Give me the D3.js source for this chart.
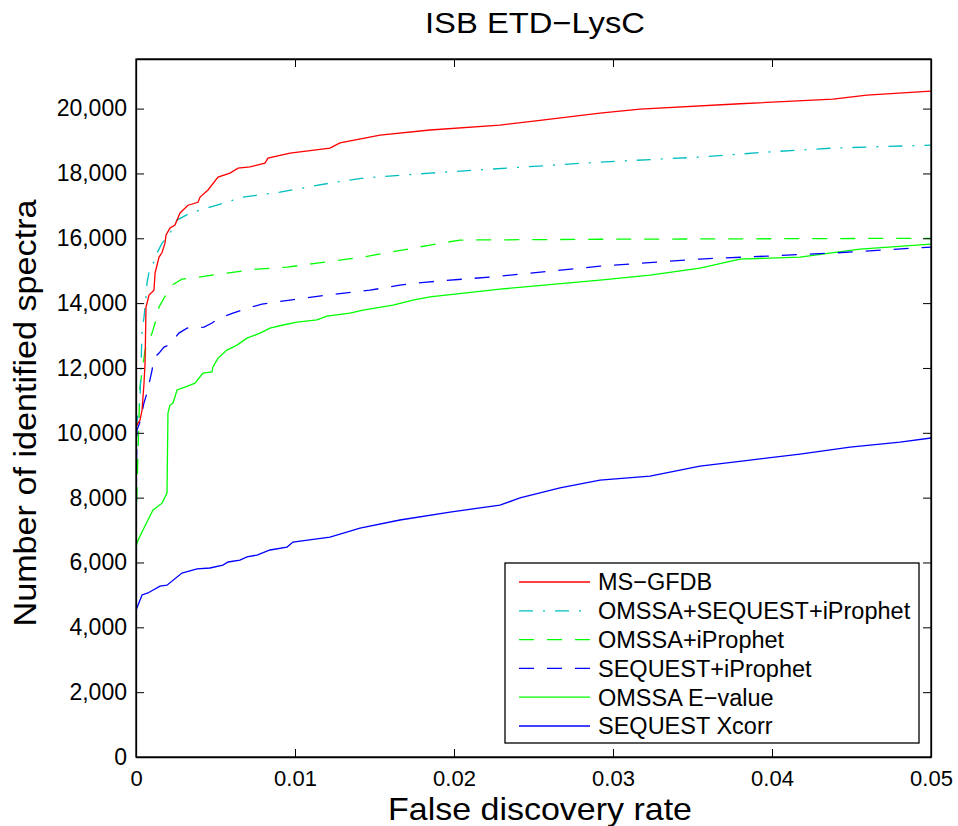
<!DOCTYPE html>
<html>
<head>
<meta charset="utf-8">
<script src="https://cdn.jsdelivr.net/npm/d3@7"></script>
<style>
  body { margin: 0; background: #fff; }
  text { font-family: "Liberation Sans", Arial, Helvetica, sans-serif; fill: #000; }
</style>
</head>
<body>
<svg id="chart" width="958" height="826"></svg>
<script>
// series names, as in the legend
var seriesNames = ["MS\u2212GFDB", "OMSSA+SEQUEST+iProphet", "OMSSA+iProphet",
  "SEQUEST+iProphet", "OMSSA E\u2212value", "SEQUEST Xcorr"];

// false discovery rate / number of identified spectra
var gfdbFdr = [0, 0.00013, 0.00025, 0.00038, 0.0005, 0.00057, 0.00063, 0.00082, 0.00113, 0.0012,
  0.00145, 0.00164, 0.00182, 0.00189, 0.00214, 0.00245, 0.00277, 0.00327, 0.0039, 0.00403,
  0.00453, 0.00516, 0.00591, 0.00642, 0.00717, 0.00811, 0.0083, 0.00969, 0.0122, 0.01283,
  0.01535, 0.01849, 0.02289, 0.02541, 0.02918, 0.0317, 0.03799, 0.04384, 0.04597, 0.05];
var gfdbCount = [10180, 10300, 10390, 10700, 11500, 12150, 13880, 14250, 14400, 14930,
  15420, 15560, 15850, 16100, 16315, 16410, 16780, 17020, 17110, 17270,
  17490, 17890, 18010, 18165, 18200, 18320, 18475, 18630, 18780, 18940,
  19180, 19340, 19490, 19640, 19860, 19985, 20150, 20290, 20416, 20540];

var allFdr = [0, 0.00006, 0.00025, 0.00031, 0.00038, 0.0005, 0.00063, 0.00069, 0.00088, 0.00113,
  0.00132, 0.00164, 0.00208, 0.00258, 0.0034, 0.00403, 0.00509, 0.00673, 0.00906, 0.0122,
  0.01428, 0.01849, 0.02918, 0.03547, 0.03969, 0.04384, 0.05];
var allCount = [10100, 10330, 11000, 11935, 13170, 13540, 14190, 14620, 15110, 15265,
  15540, 15850, 16100, 16561, 16777, 16870, 17024, 17270, 17425, 17702,
  17857, 18011, 18350, 18504, 18659, 18782, 18874];

var omssaIpFdr = [0, 0.00013, 0.00019, 0.00025, 0.00057, 0.00101, 0.0012, 0.00145, 0.00176, 0.00226,
  0.00289, 0.00396, 0.00572, 0.00761, 0.0095, 0.01138, 0.01428, 0.01849, 0.02038, 0.02918, 0.05];
var omssaIpCount = [7000, 9500, 10485, 11410, 12550, 13075, 13385, 13880, 14155, 14555,
  14740, 14805, 14925, 15050, 15110, 15235, 15420, 15790, 15945, 15970, 16000];

var sequestIpFdr = [0, 0.00006, 0.00025, 0.0005, 0.00069, 0.00101, 0.00113, 0.00145, 0.00176, 0.00208,
  0.0027, 0.00321, 0.00428, 0.00478, 0.00522, 0.0061, 0.00686, 0.00792, 0.00969, 0.01201,
  0.01472, 0.0166, 0.0183, 0.02289, 0.02918, 0.03547, 0.03969, 0.04384, 0.05];
var sequestIpCount = [7300, 10085, 10330, 10920, 11225, 11935, 12305, 12460, 12645, 12705,
  13075, 13230, 13260, 13385, 13540, 13690, 13820, 13970, 14095, 14250,
  14400, 14555, 14650, 14830, 15140, 15360, 15450, 15545, 15730];

var omssaEvFdr = [0, 0.00013, 0.00044, 0.00075, 0.00107, 0.00164, 0.00195, 0.00201, 0.00214, 0.00233,
  0.00258, 0.00308, 0.00371, 0.00421, 0.00478, 0.00484, 0.00516, 0.00572, 0.00635, 0.00698,
  0.0078, 0.00843, 0.00925, 0.01013, 0.01138, 0.01201, 0.01346, 0.01428, 0.01616, 0.01742,
  0.01849, 0.02289, 0.02918, 0.03233, 0.03547, 0.03799, 0.04176, 0.04553, 0.05];
var omssaEvCount = [6480, 6690, 7000, 7310, 7620, 7830, 8140, 10610, 10855, 10920,
  11320, 11410, 11530, 11840, 11875, 12030, 12305, 12550, 12705, 12920,
  13075, 13230, 13325, 13415, 13480, 13600, 13690, 13785, 13940, 14095,
  14190, 14430, 14710, 14865, 15080, 15360, 15420, 15665, 15820];

var xcorrFdr = [0, 0.00038, 0.00075, 0.00151, 0.00195, 0.00289, 0.00384, 0.00465, 0.00547, 0.00579,
  0.00654, 0.00698, 0.00761, 0.00843, 0.0095, 0.00987, 0.01138, 0.0122, 0.01409, 0.0166,
  0.01975, 0.02289, 0.02415, 0.02667, 0.02918, 0.03233, 0.03547, 0.03862, 0.04176, 0.04491,
  0.04805, 0.05];
var xcorrCount = [4530, 5000, 5060, 5270, 5300, 5675, 5800, 5830, 5920, 6015,
  6075, 6170, 6230, 6385, 6475, 6630, 6725, 6785, 7060, 7310,
  7555, 7770, 7990, 8300, 8540, 8665, 8975, 9160, 9345, 9560,
  9715, 9840];

var xTicks = [0, 0.01, 0.02, 0.03, 0.04, 0.05];
var yTicks = [0, 2000, 4000, 6000, 8000, 10000, 12000, 14000, 16000, 18000, 20000];

var fdrs = [gfdbFdr, allFdr, omssaIpFdr, sequestIpFdr, omssaEvFdr, xcorrFdr];
var counts = [gfdbCount, allCount, omssaIpCount, sequestIpCount, omssaEvCount, xcorrCount];
var colors = ["#ff0000", "#00bfbf", "#00ff00", "#0000ff", "#00ff00", "#0000ff"];
var dashes = [null, "14,10,2,10", "15,13", "15,13", null, null];

var margin = { top: 59, right: 27, bottom: 69, left: 136 };
var width = 958 - margin.left - margin.right,
  height = 826 - margin.top - margin.bottom;

var svg = d3.select("#chart");
var g = svg.append("g").attr("transform", "translate(" + margin.left + "," + margin.top + ")");

var x = d3.scaleLinear().domain([0, 0.05]).range([0, width]);
var y = d3.scaleLinear().domain([0, 21530]).range([height, 0]);

g.append("clipPath").attr("id", "clip")
  .append("rect").attr("width", width).attr("height", height);

var line = d3.line()
  .x(function (d) { return x(d[0]); })
  .y(function (d) { return y(d[1]); });

var series = seriesNames.map(function (name, i) {
  return { name: name, values: fdrs[i].map(function (f, j) { return [f, counts[i][j]]; }), color: colors[i], dash: dashes[i] };
});

// draw lowest first so the red line ends on top
g.append("g").attr("clip-path", "url(#clip)")
  .selectAll("path")
  .data(series.slice().reverse())
  .enter().append("path")
  .attr("fill", "none")
  .attr("stroke", function (d) { return d.color; })
  .attr("stroke-width", 1.3)
  .attr("stroke-dasharray", function (d) { return d.dash; })
  .attr("d", function (d) { return line(d.values); });

var xFmt = function (d) { return d === 0 ? "0" : d3.format(".2f")(d); };

var gx = g.append("g").attr("transform", "translate(0," + height + ")")
  .call(d3.axisBottom(x).tickValues(xTicks).tickFormat(xFmt).tickSizeInner(-8).tickSizeOuter(0).tickPadding(13));
var gxt = g.append("g")
  .call(d3.axisTop(x).tickValues(xTicks).tickFormat("").tickSizeInner(-8).tickSizeOuter(0));
var gy = g.append("g")
  .call(d3.axisLeft(y).tickValues(yTicks).tickFormat(d3.format(",")).tickSizeInner(-8).tickSizeOuter(0).tickPadding(9));
var gyr = g.append("g").attr("transform", "translate(" + width + ",0)")
  .call(d3.axisRight(y).tickValues(yTicks).tickFormat("").tickSizeInner(-8).tickSizeOuter(0));

[gx, gxt, gy, gyr].forEach(function (a) {
  a.select(".domain").attr("stroke", "#000").attr("stroke-width", 1.3);
  a.selectAll(".tick line").attr("stroke", "#000").attr("stroke-width", 1);
  a.selectAll(".tick text")
    .style("font-family", '"Liberation Sans", Arial, Helvetica, sans-serif');
});
gx.selectAll(".tick text").style("font-size", "22px");
gy.selectAll(".tick text").style("font-size", "23px");

// full frame (top and right edges)
g.append("rect").attr("width", width).attr("height", height)
  .attr("fill", "none").attr("stroke", "#000").attr("stroke-width", 1.3);

// title and axis labels
svg.append("text").attr("x", 535).attr("y", 33).attr("text-anchor", "middle")
  .attr("textLength", 220).attr("lengthAdjust", "spacingAndGlyphs")
  .style("font-size", "29px").text("ISB ETD\u2212LysC");

svg.append("text").attr("x", 540).attr("y", 820).attr("text-anchor", "middle")
  .attr("textLength", 304).attr("lengthAdjust", "spacingAndGlyphs")
  .style("font-size", "32px").text("False discovery rate");

svg.append("text").attr("transform", "translate(36,413) rotate(-90)").attr("text-anchor", "middle")
  .attr("textLength", 427).attr("lengthAdjust", "spacingAndGlyphs")
  .style("font-size", "32px").text("Number of identified spectra");

// legend
var legend = svg.append("g").attr("transform", "translate(505,563)");
legend.append("rect").attr("width", 414).attr("height", 180)
  .attr("fill", "#fff").attr("stroke", "#000").attr("stroke-width", 1.3);

var item = legend.selectAll(".item").data(series).enter().append("g")
  .attr("class", "item")
  .attr("transform", function (d, i) { return "translate(0," + (19 + i * 28.8) + ")"; });

item.append("line").attr("x1", 14).attr("x2", 85)
  .attr("stroke", function (d) { return d.color; })
  .attr("stroke-width", 1.3)
  .attr("stroke-dasharray", function (d) { return d.dash; });

item.append("text").attr("x", 93).attr("dy", "0.36em")
  .style("font-size", "23.5px").text(function (d) { return d.name; });
</script>
</body>
</html>
